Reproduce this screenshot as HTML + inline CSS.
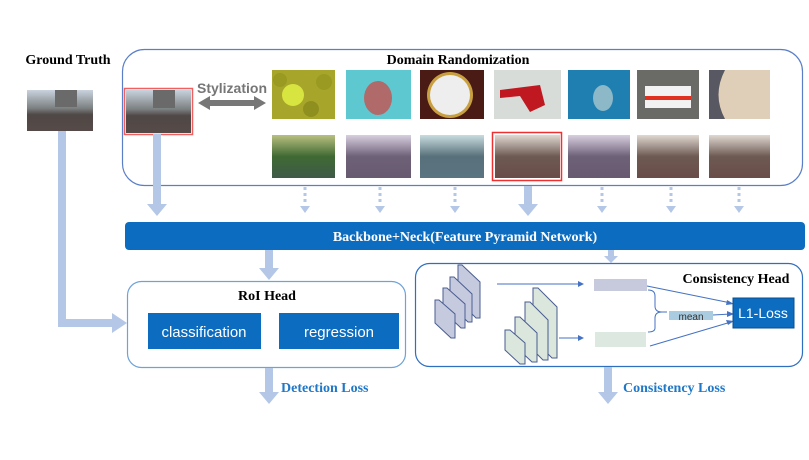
<!DOCTYPE html>
<html><head><meta charset="utf-8"><style>
body{margin:0;background:#fff;}
svg text{font-family:"Liberation Serif",serif;}
</style></head><body>
<svg width="809" height="455" viewBox="0 0 809 455" xmlns="http://www.w3.org/2000/svg">
<defs>
<linearGradient id="st" x1="0" y1="0" x2="0" y2="1">
<stop offset="0" stop-color="#c9d3de"/><stop offset="0.45" stop-color="#7b7f80"/><stop offset="0.6" stop-color="#4f4846"/><stop offset="1" stop-color="#564a48"/></linearGradient>
<linearGradient id="stg" x1="0" y1="0" x2="0" y2="1">
<stop offset="0" stop-color="#b9c080"/><stop offset="0.5" stop-color="#3f6a33"/><stop offset="1" stop-color="#3f5a48"/></linearGradient>
<linearGradient id="stp" x1="0" y1="0" x2="0" y2="1">
<stop offset="0" stop-color="#d8cfe0"/><stop offset="0.5" stop-color="#6d6178"/><stop offset="1" stop-color="#685a70"/></linearGradient>
<linearGradient id="stb" x1="0" y1="0" x2="0" y2="1">
<stop offset="0" stop-color="#c9dde0"/><stop offset="0.5" stop-color="#58707a"/><stop offset="1" stop-color="#5b7482"/></linearGradient>
<linearGradient id="str" x1="0" y1="0" x2="0" y2="1">
<stop offset="0" stop-color="#e0d8d2"/><stop offset="0.5" stop-color="#6d5a52"/><stop offset="1" stop-color="#6a4c48"/></linearGradient>
</defs>
<!-- Ground truth -->
<text x="68" y="64" font-size="14" font-weight="bold" text-anchor="middle">Ground Truth</text>
<rect x="27" y="90" width="66" height="41" fill="url(#st)"/>
<rect x="55" y="90" width="22" height="17" fill="#6a6a6a"/>
<!-- GT arrow -->
<path d="M58 131 H66 V319 H112 V313 L127 323 L112 333 V327 H58 Z" fill="#b4c7e7"/>
<!-- Domain Randomization box -->
<rect x="122.5" y="49.5" width="680" height="136" rx="22" fill="none" stroke="#5b7fc7" stroke-width="1.2"/>
<text x="458" y="64" font-size="14" font-weight="bold" text-anchor="middle">Domain Randomization</text>
<rect x="124.5" y="88.5" width="68" height="46" fill="none" stroke="#f06060" stroke-width="1.5"/>
<rect x="126" y="90" width="65" height="43" fill="url(#st)"/>
<rect x="153" y="90" width="22" height="18" fill="#6a6a6a"/>
<text x="232" y="93" font-size="14" font-weight="bold" fill="#767676" text-anchor="middle" style="font-family:'Liberation Sans',sans-serif">Stylization</text>
<path d="M198 103 L210 96 V100 H254 V96 L266 103 L254 110 V106 H210 V110 Z" fill="#777"/>
<!-- top images -->
<rect x="272" y="70" width="63" height="49" fill="#a8a62a"/>
<circle cx="293" cy="95" r="11" fill="#d8e540"/><circle cx="280" cy="80" r="7" fill="#9a9a22"/><circle cx="324" cy="82" r="8" fill="#9a9a22"/><circle cx="311" cy="109" r="8" fill="#8f8f20"/>
<rect x="346" y="70" width="65" height="49" fill="#5ec8d0"/>
<ellipse cx="378" cy="98" rx="14" ry="17" fill="#b06a6a"/>
<rect x="420" y="70" width="64" height="49" fill="#4a1a14"/>
<circle cx="450" cy="95" r="23" fill="#c9a040"/><circle cx="450" cy="95" r="20" fill="#eeeeee"/>
<rect x="494" y="70" width="67" height="49" fill="#d8dcd8"/>
<path d="M500 90 L540 85 L545 105 L530 112 L520 96 L500 98 Z" fill="#c01820"/>
<rect x="568" y="70" width="62" height="49" fill="#1f7fb0"/>
<ellipse cx="603" cy="98" rx="10" ry="13" fill="#8cb8c8"/>
<rect x="637" y="70" width="62" height="49" fill="#6a6a66"/>
<rect x="645" y="86" width="46" height="22" fill="#f2f2f2"/><rect x="645" y="96" width="46" height="4" fill="#e03020"/>
<rect x="709" y="70" width="61" height="49" fill="#585862"/>
<path d="M725 70 H770 V119 H725 Q712 95 725 70 Z" fill="#e0cfb8"/>
<!-- bottom images -->
<rect x="272" y="135" width="63" height="43" fill="url(#stg)"/>
<rect x="346" y="135" width="65" height="43" fill="url(#stp)"/>
<rect x="420" y="135" width="64" height="43" fill="url(#stb)"/>
<rect x="492.5" y="132.5" width="69" height="48" fill="none" stroke="#f03030" stroke-width="1.5"/>
<rect x="495" y="135" width="65" height="43" fill="url(#str)"/>
<rect x="568" y="135" width="62" height="43" fill="url(#stp)"/>
<rect x="637" y="135" width="62" height="43" fill="url(#str)"/>
<rect x="709" y="135" width="61" height="43" fill="url(#str)"/>
<!-- arrows to backbone -->
<path d="M153 134 H161 V204 H167 L157 216 L147 204 H153 Z" fill="#b4c7e7"/>
<path d="M524 186 H532 V204 H538 L528 216 L518 204 H524 Z" fill="#b4c7e7"/>
<g stroke="#b4c7e7" stroke-width="3" stroke-dasharray="3,3" fill="none">
<line x1="305" y1="187" x2="305" y2="205"/><line x1="380" y1="187" x2="380" y2="205"/><line x1="455" y1="187" x2="455" y2="205"/>
<line x1="602" y1="187" x2="602" y2="205"/><line x1="671" y1="187" x2="671" y2="205"/><line x1="739" y1="187" x2="739" y2="205"/>
</g>
<g fill="#b4c7e7">
<path d="M300 206 H310 L305 213 Z"/><path d="M375 206 H385 L380 213 Z"/><path d="M450 206 H460 L455 213 Z"/>
<path d="M597 206 H607 L602 213 Z"/><path d="M666 206 H676 L671 213 Z"/><path d="M734 206 H744 L739 213 Z"/>
</g>
<!-- backbone -->
<rect x="125" y="222" width="680" height="28" rx="4" fill="#0b6cc0"/>
<text x="465" y="241" font-size="14" font-weight="bold" fill="#fff" text-anchor="middle">Backbone+Neck(Feature Pyramid Network)</text>
<path d="M265 250 H273 V268 H279 L269 280 L259 268 H265 Z" fill="#b4c7e7"/>
<path d="M608 250 H614 V256 H618 L611 263 L604 256 H608 Z" fill="#b4c7e7"/>
<!-- RoI head -->
<rect x="127.5" y="281.5" width="278" height="86" rx="14" fill="none" stroke="#6fa2d8" stroke-width="1.2"/>
<text x="267" y="300" font-size="14" font-weight="bold" text-anchor="middle">RoI Head</text>
<rect x="148" y="313" width="113" height="36" fill="#0b6cc0"/>
<rect x="279" y="313" width="120" height="36" fill="#0b6cc0"/>
<text x="204" y="337" font-size="15" fill="#fff" text-anchor="middle" style="font-family:'Liberation Sans',sans-serif">classification</text>
<text x="339" y="337" font-size="15" fill="#fff" text-anchor="middle" style="font-family:'Liberation Sans',sans-serif">regression</text>
<path d="M265 368 H273 V392 H279 L269 404 L259 392 H265 Z" fill="#b4c7e7"/>
<text x="281" y="392" font-size="14" font-weight="bold" fill="#1f78c8">Detection Loss</text>
<!-- Consistency head -->
<rect x="415.5" y="263.5" width="387" height="103" rx="14" fill="none" stroke="#2f6fc0" stroke-width="1.2"/>
<text x="736" y="283" font-size="14" font-weight="bold" text-anchor="middle">Consistency Head</text>
<g fill="#c5cadf" stroke="#4a5d90" stroke-width="1">
<path d="M458 265 L462 265 L480 282 L480 318 L476 318 L458 300 Z"/>
<path d="M450 277 L454 277 L472 294 L472 322 L468 322 L450 305 Z"/>
<path d="M443 288 L447 288 L465 304 L465 328 L461 328 L443 311 Z"/>
<path d="M435 300 L439 300 L455 314 L455 338 L451 338 L435 323 Z"/>
</g>
<g fill="#dbe7dd" stroke="#4a5d90" stroke-width="1">
<path d="M533 288 L538 288 L557 307 L557 358 L552 358 L533 339 Z"/>
<path d="M525 302 L530 302 L548 320 L548 360 L543 360 L525 342 Z"/>
<path d="M515 317 L520 317 L537 333 L537 362 L532 362 L515 346 Z"/>
<path d="M505 330 L510 330 L525 343 L525 364 L520 364 L505 350 Z"/>
</g>
<g stroke="#4472c4" stroke-width="1" fill="none">
<line x1="497" y1="284" x2="580" y2="284"/><line x1="559" y1="338" x2="580" y2="338"/>
<line x1="647" y1="286" x2="731" y2="303"/><line x1="650" y1="346" x2="731" y2="322"/>
<line x1="713" y1="315" x2="731" y2="314"/>
<path d="M648 290 Q655 290 655 296 V306 Q655 312 662 312 H667 M662 312 Q655 312 655 318 V328 Q655 332 648 332"/>
</g>
<g fill="#4472c4">
<path d="M584 284 L578 281 L578 287 Z"/><path d="M584 338 L578 335 L578 341 Z"/>
<path d="M734 304 L727 300 L726 305 Z"/><path d="M734 321 L726 320 L728 325 Z"/><path d="M734 314 L727 311 L727 317 Z"/>
</g>
<rect x="594" y="279" width="53" height="12" fill="#c7cadc"/>
<rect x="595" y="332" width="51" height="15" fill="#dde8e0"/>
<rect x="669" y="311" width="44" height="9" fill="#a9cce0"/>
<text x="691" y="320" font-size="10" fill="#333" text-anchor="middle" style="font-family:'Liberation Sans',sans-serif">mean</text>
<rect x="733" y="298" width="61" height="30" fill="#0b6cc0" stroke="#0a4f90"/>
<text x="763" y="318" font-size="14" fill="#fff" text-anchor="middle" style="font-family:'Liberation Sans',sans-serif">L1-Loss</text>
<path d="M604 367 H612 V392 H618 L608 404 L598 392 H604 Z" fill="#b4c7e7"/>
<text x="623" y="392" font-size="14" font-weight="bold" fill="#1f78c8">Consistency Loss</text>
</svg>
</body></html>
